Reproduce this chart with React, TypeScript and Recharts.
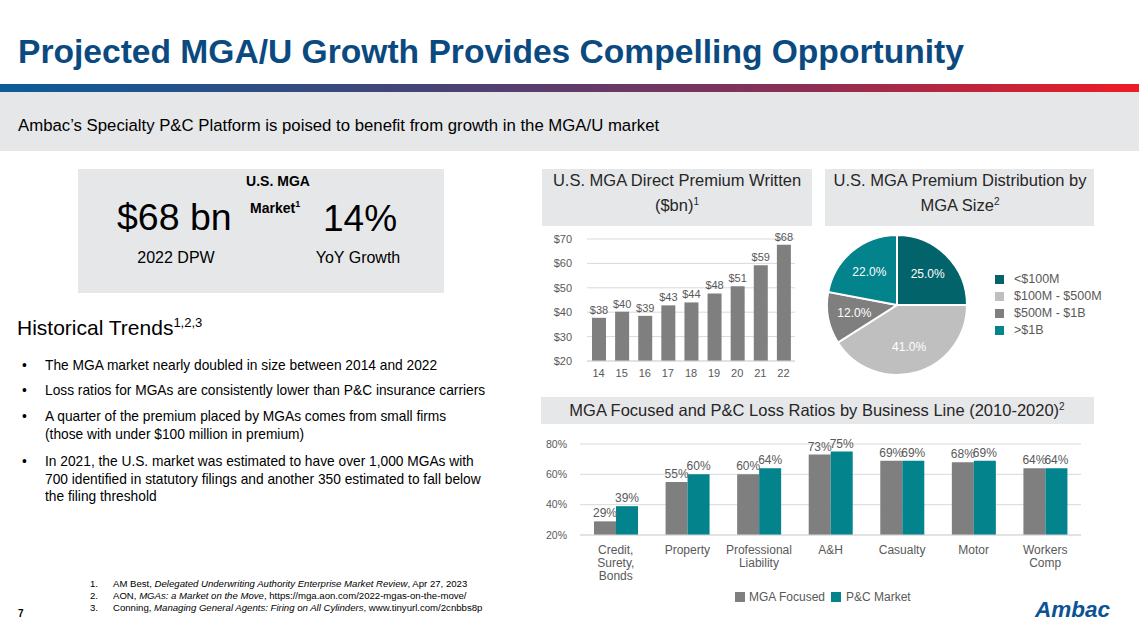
import React from 'react';
import { BarChart, Bar, XAxis, YAxis, CartesianGrid, LabelList, PieChart, Pie, Cell } from 'recharts';

// ---------- data ----------
const years = ['14', '15', '16', '17', '18', '19', '20', '21', '22'];
const dpwValues = [37.7, 40.2, 38.5, 42.8, 44.0, 47.7, 50.6, 59.2, 67.6];
const dpwTicks = [20, 30, 40, 50, 60, 70];

const sizeBands = ['<$100M', '$100M - $500M', '$500M - $1B', '>$1B'];
const sizeShares = [25, 41, 12, 22];
const sizeColors = ['#02636b', '#bfbfbf', '#7f7f7f', '#03838c'];

const businessLines = ['Credit,\nSurety,\nBonds', 'Property', 'Professional\nLiability', 'A&H', 'Casualty', 'Motor', 'Workers\nComp'];
const mgaFocused = [29, 55, 60, 73, 69, 68, 64];
const pcMarket = [39, 60, 64, 75, 69, 69, 64];
const lossTicks = [20, 40, 60, 80];
const lossSeries = ['MGA Focused', 'P&C Market'];
const lossColors = ['#7f7f7f', '#03838c'];

const bullets = [
  ['The MGA market nearly doubled in size between 2014 and 2022'],
  ['Loss ratios for MGAs are consistently lower than P&C insurance carriers'],
  ['A quarter of the premium placed by MGAs comes from small firms', '(those with under $100 million in premium)'],
  ['In 2021, the U.S. market was estimated to have over 1,000 MGAs with', '700 identified in statutory filings and another 350 estimated to fall below', 'the filing threshold'],
];

const dpwData = years.map((y, i) => ({ year: y, value: dpwValues[i] }));
const pieData = sizeBands.map((b, i) => ({ name: b, value: sizeShares[i] }));
const lossData = businessLines.map((l, i) => ({ line: l, mga: mgaFocused[i], pc: pcMarket[i] }));

// ---------- styles ----------
const FONT = '"Liberation Sans", Arial, Helvetica, sans-serif';
const GRAY_BOX = '#e6e7e9';
const LABEL = '#595959';

type TP = { x: number; cy: number; size: number; children: React.ReactNode; bold?: boolean; italic?: boolean; color?: string; center?: boolean };
const T = ({ x, cy, size, children, bold, italic, color, center }: TP) => (
  <div
    style={{
      position: 'absolute',
      left: x,
      top: cy - size / 2,
      fontSize: size,
      lineHeight: `${size}px`,
      height: size,
      whiteSpace: 'nowrap',
      fontWeight: bold ? 700 : 400,
      fontStyle: italic ? 'italic' : 'normal',
      color: color || '#000',
      transform: center ? 'translateX(-50%)' : undefined,
    }}
  >
    {children}
  </div>
);

const Box = ({ x, y, w, h }: { x: number; y: number; w: number; h: number }) => (
  <div style={{ position: 'absolute', left: x, top: y, width: w, height: h, background: GRAY_BOX }} />
);

const sup = (s: string, size: number) => (
  <span style={{ fontSize: size, verticalAlign: 'super', lineHeight: 0 }}>{s}</span>
);

const RAD = Math.PI / 180;
const renderPieLabel = (p: any) => {
  const r = p.outerRadius * 0.62;
  const x = p.cx + r * Math.cos(-p.midAngle * RAD);
  const y = p.cy + r * Math.sin(-p.midAngle * RAD);
  return (
    <text x={x} y={y} fill="#fff" fontSize={12} fontFamily={FONT} textAnchor="middle" dominantBaseline="central">
      {`${Number(p.value).toFixed(1)}%`}
    </text>
  );
};

const MultiTick = (props: any) => {
  const { x, y, payload } = props;
  const parts = String(payload.value).split('\n');
  return (
    <text x={x} y={y} textAnchor="middle" fill={LABEL} fontSize={12} fontFamily={FONT}>
      {parts.map((p, i) => (
        <tspan key={i} x={x} y={y + 11 + i * 13}>{p}</tspan>
      ))}
    </text>
  );
};

export default function App() {
  return (
    <div style={{ position: 'absolute', left: 0, top: 0, width: 1139, height: 634, background: '#fff', fontFamily: FONT, overflow: 'hidden' }}>
      {/* header */}
      <T x={18} cy={52} size={33.6} bold color="#0b4a80">Projected MGA/U Growth Provides Compelling Opportunity</T>
      <div style={{ position: 'absolute', left: 0, top: 84, width: 1139, height: 8, background: 'linear-gradient(to right, #0b5c99 0%, #4a4274 40%, #8a2f55 70%, #ee1c25 100%)' }} />
      <div style={{ position: 'absolute', left: 0, top: 92, width: 1139, height: 59, background: GRAY_BOX }} />
      <T x={18} cy={126} size={16.75}>Ambac’s Specialty P&amp;C Platform is poised to benefit from growth in the MGA/U market</T>

      {/* stat box */}
      <Box x={78} y={169} w={366} h={124} />
      <T x={278} cy={181} size={14} bold center>U.S. MGA</T>
      <T x={117} cy={218} size={37.5}>$68 bn</T>
      <T x={250} cy={208} size={14} bold>Market{sup('1', 9)}</T>
      <T x={323} cy={218} size={37}>14%</T>
      <T x={176} cy={258} size={16} center>2022 DPW</T>
      <T x={358} cy={258} size={16} center>YoY Growth</T>

      {/* historical trends */}
      <T x={17} cy={327} size={21}>Historical Trends{sup('1,2,3', 13)}</T>
      {bullets.map((b, bi) => {
        const starts = [366, 391, 417, 462];
        return (
          <React.Fragment key={bi}>
            <T x={22} cy={starts[bi]} size={13.75}>•</T>
            {b.map((line, li) => (
              <T key={li} x={45} cy={starts[bi] + li * 17.5} size={13.75}>{line}</T>
            ))}
          </React.Fragment>
        );
      })}

      {/* chart 1 title */}
      <Box x={542} y={169} w={270} h={57} />
      <T x={677} cy={180} size={16.5} center color="#262626">U.S. MGA Direct Premium Written</T>
      <T x={677} cy={205} size={16.5} center color="#262626">($bn){sup('1', 10)}</T>

      <div style={{ position: 'absolute', left: 540, top: 229 }}>
        <BarChart width={262} height={160} data={dpwData} margin={{ top: 10, right: 7, bottom: 0, left: 0 }} barSize={14}>
          <CartesianGrid vertical={false} stroke="#d9d9d9" />
          <XAxis dataKey="year" axisLine={{ stroke: '#d9d9d9' }} tickLine={false} tickSize={0} tickMargin={8} height={28}
            tick={{ fill: LABEL, fontSize: 11, fontFamily: FONT }} interval={0} />
          <YAxis domain={[20, 70]} ticks={dpwTicks} tickFormatter={(v: number) => `$${v}`} axisLine={false} tickLine={false}
            tickSize={0} tickMargin={15} width={47} tick={{ fill: LABEL, fontSize: 11, fontFamily: FONT }} />
          <Bar dataKey="value" fill="#7f7f7f" isAnimationActive={false}>
            <LabelList dataKey="value" position="top" offset={4} formatter={(v: any) => `$${Math.round(Number(v))}`}
              style={{ fill: LABEL, fontSize: 11, fontFamily: FONT }} />
          </Bar>
        </BarChart>
      </div>

      {/* pie title */}
      <Box x={825} y={169} w={269} h={57} />
      <T x={960} cy={180} size={16.5} center color="#262626">U.S. MGA Premium Distribution by</T>
      <T x={960} cy={205} size={16.5} center color="#262626">MGA Size{sup('2', 10)}</T>

      <div style={{ position: 'absolute', left: 820, top: 230 }}>
        <PieChart width={160} height={150} margin={{ top: 0, right: 0, bottom: 0, left: 0 }}>
          <Pie data={pieData} dataKey="value" nameKey="name" cx={77} cy={75} outerRadius={70} startAngle={90} endAngle={-270}
            stroke="#fff" strokeWidth={2} isAnimationActive={false} label={renderPieLabel} labelLine={false}>
            {pieData.map((d, i) => (
              <Cell key={d.name} fill={sizeColors[i]} />
            ))}
          </Pie>
        </PieChart>
      </div>
      {sizeBands.map((b, i) => (
        <React.Fragment key={b}>
          <div style={{ position: 'absolute', left: 995, top: 279 + i * 17 - 4.5, width: 9, height: 9, background: sizeColors[i] }} />
          <T x={1014} cy={279 + i * 17} size={12.5} color={LABEL}>{b}</T>
        </React.Fragment>
      ))}

      {/* loss ratio chart */}
      <Box x={541} y={397} w={553} h={27} />
      <T x={817} cy={410} size={16.5} center color="#262626">MGA Focused and P&amp;C Loss Ratios by Business Line (2010-2020){sup('2', 10)}</T>

      <div style={{ position: 'absolute', left: 540, top: 434 }}>
        <BarChart width={541} height={160} data={lossData} margin={{ top: 10, right: 0, bottom: 0, left: 0 }} barSize={22} barGap={0}>
          <CartesianGrid vertical={false} stroke="#d9d9d9" />
          <XAxis dataKey="line" axisLine={{ stroke: '#d9d9d9' }} tickLine={false} height={59} interval={0} tick={<MultiTick />} />
          <YAxis domain={[20, 80]} ticks={lossTicks} tickFormatter={(v: number) => `${v}%`} axisLine={false} tickLine={false}
            tickSize={0} tickMargin={13} width={40} tick={{ fill: LABEL, fontSize: 10.5, fontFamily: FONT }} />
          <Bar dataKey="mga" name={lossSeries[0]} fill={lossColors[0]} isAnimationActive={false}>
            <LabelList dataKey="mga" position="top" offset={4} formatter={(v: any) => `${v}%`}
              style={{ fill: LABEL, fontSize: 12, fontFamily: FONT }} />
          </Bar>
          <Bar dataKey="pc" name={lossSeries[1]} fill={lossColors[1]} isAnimationActive={false}>
            <LabelList dataKey="pc" position="top" offset={4} formatter={(v: any) => `${v}%`}
              style={{ fill: LABEL, fontSize: 12, fontFamily: FONT }} />
          </Bar>
        </BarChart>
      </div>
      {lossSeries.map((s, i) => (
        <React.Fragment key={s}>
          <div style={{ position: 'absolute', left: 735 + i * 96, top: 592, width: 10, height: 10, background: lossColors[i] }} />
          <T x={749 + i * 97} cy={597} size={12} color={LABEL}>{s}</T>
        </React.Fragment>
      ))}

      {/* footnotes */}
      {[
        <>AM Best, <i>Delegated Underwriting Authority Enterprise Market Review</i>, Apr 27, 2023</>,
        <>AON, <i>MGAs: a Market on the Move</i>, https://mga.aon.com/2022-mgas-on-the-move/</>,
        <>Conning, <i>Managing General Agents: Firing on All Cylinders</i>, www.tinyurl.com/2cnbbs8p</>,
      ].map((f, i) => (
        <React.Fragment key={i}>
          <T x={90} cy={584 + i * 12} size={9.6}>{`${i + 1}.`}</T>
          <T x={113} cy={584 + i * 12} size={9.6}>{f}</T>
        </React.Fragment>
      ))}
      <T x={18} cy={614} size={10} bold>7</T>
      <T x={1035} cy={610} size={22.5} bold italic color="#0b5394">Ambac</T>
    </div>
  );
}
